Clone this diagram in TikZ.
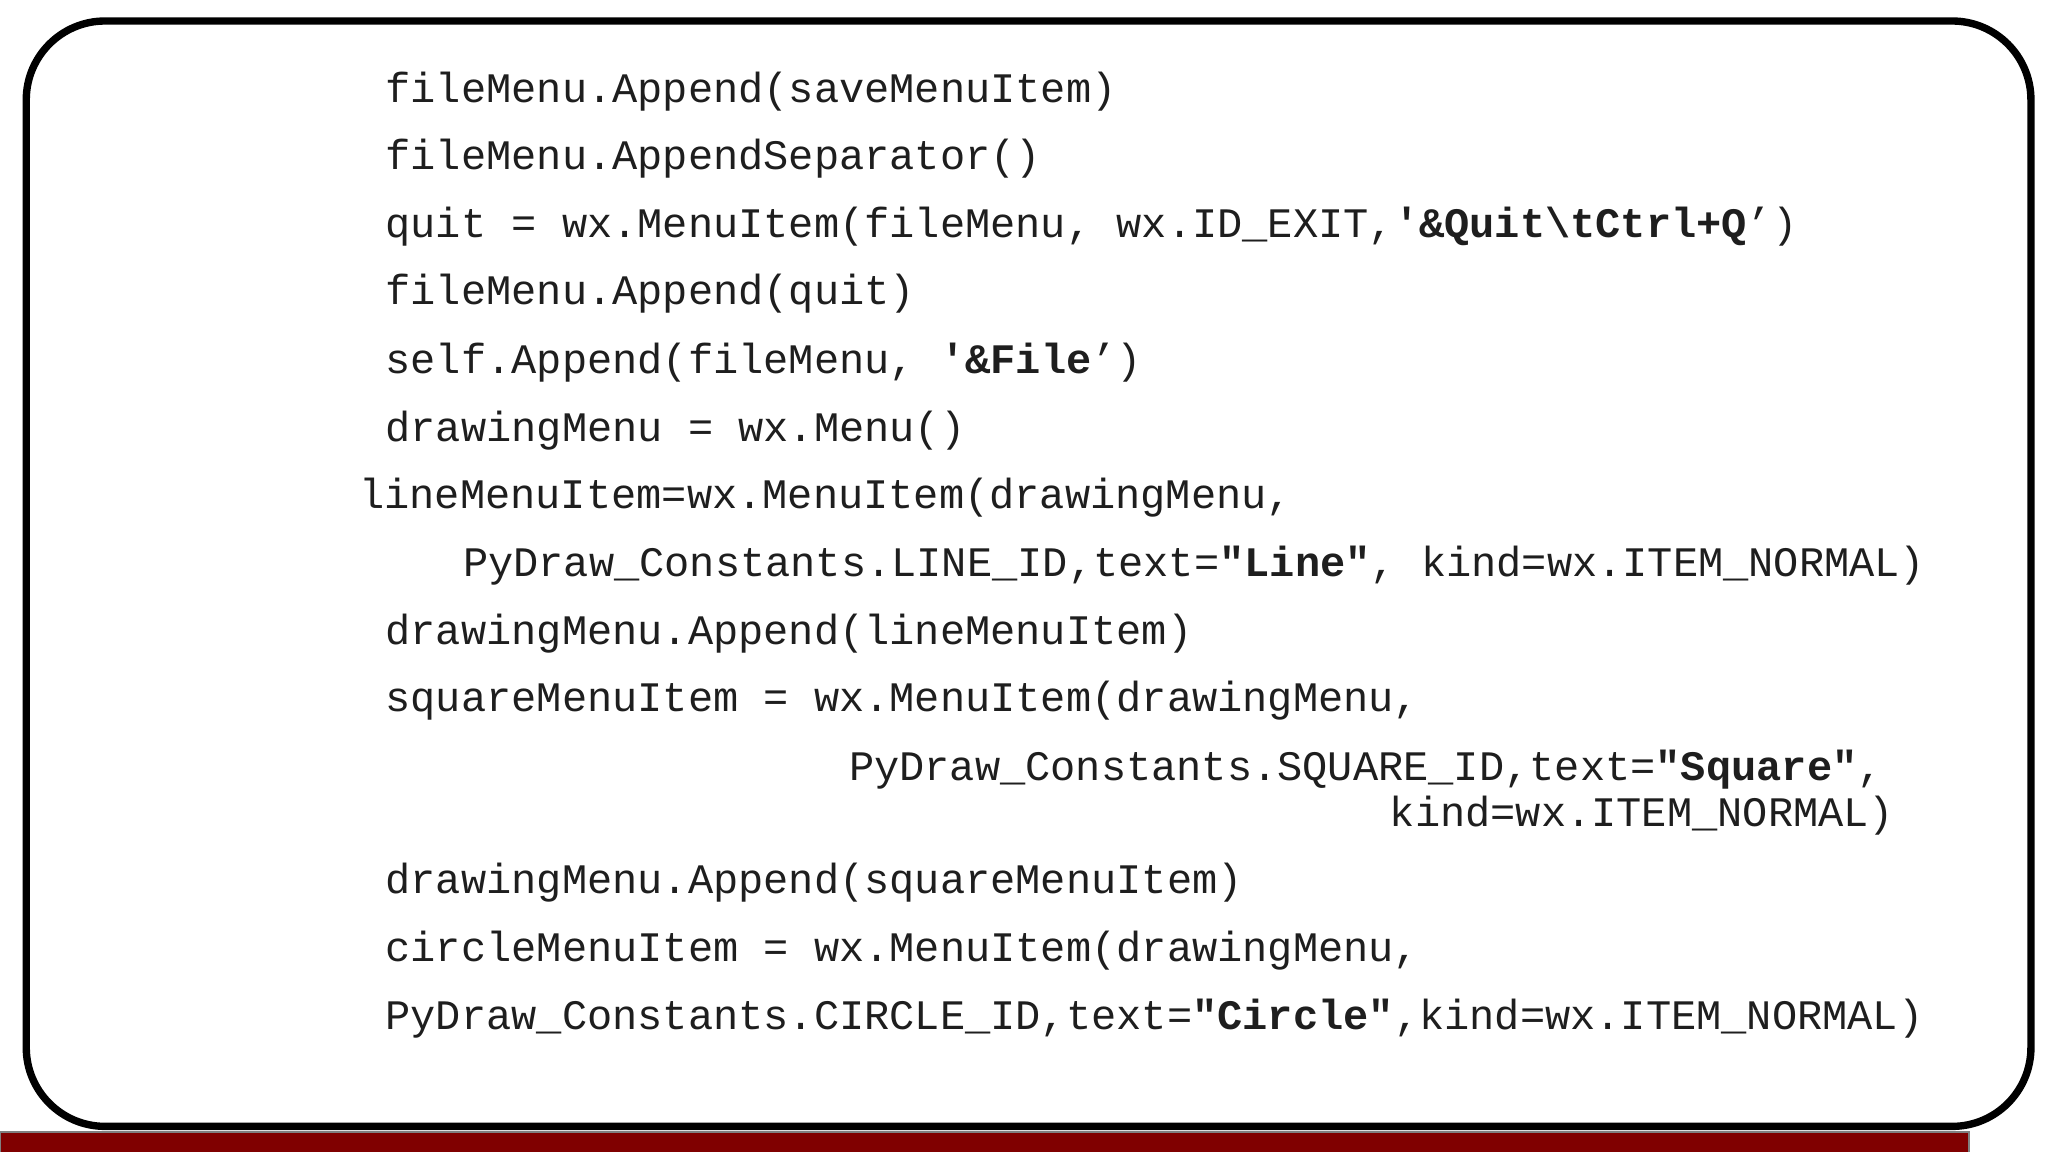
\documentclass[tikz,border=0pt]{standalone}
\usepackage{fontspec}
\setmonofont{Liberation Mono}
\usepackage{tikz}
\usetikzlibrary{positioning}
\definecolor{codegray}{HTML}{1E1E1E}
\definecolor{barred}{HTML}{800000}
\tikzset{
    code/.style={anchor=west,inner sep=0pt,text=codegray,font=\ttfamily\fontsize{9.1}{11}\selectfont},
}
\begin{document}
\begin{tikzpicture}[x=0.01cm,y=-0.01cm]
    \useasboundingbox (0,0) rectangle (1560,877);
    \draw[line width=1.6pt,rounded corners=0.6cm] (20,16) rectangle (1547,858);
    \draw[fill=barred,draw=gray] (0,862) rectangle (1500,882);
    \node[code] (l1)  at (293,70)  {fileMenu.Append(saveMenuItem)};
    \node[code] (l2)  at (293,121) {fileMenu.AppendSeparator()};
    \node[code] (l3)  at (293,173) {quit = wx.MenuItem(fileMenu, wx.ID\_EXIT,\textbf{'\&Quit\textbackslash tCtrl+Q}’)};
    \node[code] (l4)  at (293,224) {fileMenu.Append(quit)};
    \node[code] (l5)  at (293,276) {self.Append(fileMenu, \textbf{'\&File}’)};
    \node[code] (l6)  at (293,328) {drawingMenu = wx.Menu()};
    \node[code] (l7)  at (273,379) {lineMenuItem=wx.MenuItem(drawingMenu,};
    \node[code] (l8)  at (352,431) {PyDraw\_Constants.LINE\_ID,text=\textbf{"Line"}, kind=wx.ITEM\_NORMAL)};
    \node[code] (l9)  at (293,483) {drawingMenu.Append(lineMenuItem)};
    \node[code] (l10) at (293,534) {squareMenuItem = wx.MenuItem(drawingMenu,};
    \node[code] (l11) at (646,586) {PyDraw\_Constants.SQUARE\_ID,text=\textbf{"Square"},};
    \node[code] (l12) at (1058,621) {kind=wx.ITEM\_NORMAL)};
    \node[code] (l13) at (293,672) {drawingMenu.Append(squareMenuItem)};
    \node[code] (l14) at (293,724) {circleMenuItem = wx.MenuItem(drawingMenu,};
    \node[code] (l15) at (293,776) {PyDraw\_Constants.CIRCLE\_ID,text=\textbf{"Circle"},kind=wx.ITEM\_NORMAL)};
\end{tikzpicture}
\end{document}
